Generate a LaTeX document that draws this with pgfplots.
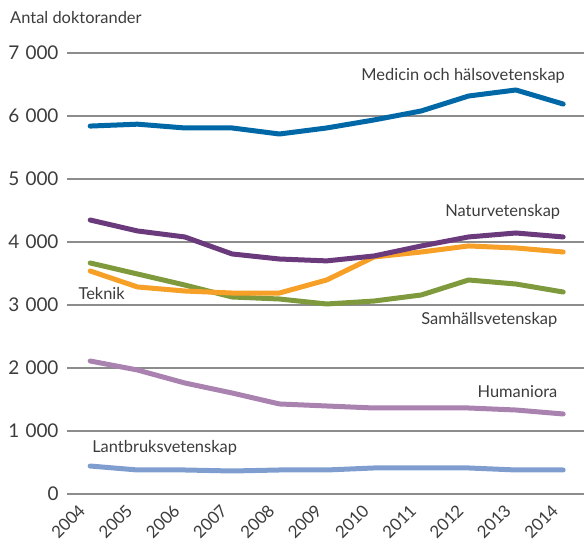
\documentclass[border=0pt]{standalone}
\usepackage{pgfplots}
\pgfplotsset{compat=1.18}
\usepackage{fontspec}
\setmainfont{Lato}
\definecolor{cMed}{RGB}{0,104,166}
\definecolor{cNat}{RGB}{107,58,124}
\definecolor{cTek}{RGB}{247,160,40}
\definecolor{cSam}{RGB}{127,154,60}
\definecolor{cHum}{RGB}{169,130,176}
\definecolor{cLan}{RGB}{127,158,207}
\definecolor{txt}{RGB}{60,60,60}
\definecolor{grd}{RGB}{140,140,140}
\begin{document}
\begin{tikzpicture}[x=1bp,y=1bp]
\begin{axis}[
  scale only axis,
  width=517bp, height=441bp,
  xmin=2003.51, xmax=2014.44,
  ymin=0, ymax=7000,
  xtick={2004,...,2014},
  ytick={0,1000,...,7000},
  yticklabels={0,1\,\,000,2\,\,000,3\,\,000,4\,\,000,5\,\,000,6\,\,000,7\,\,000},
  xticklabel style={rotate=45, anchor=east, font=\fontsize{17}{18}\selectfont, text=txt, xshift=-12bp, yshift=-4bp},
  yticklabel style={font=\fontsize{19}{20}\selectfont, text=txt, xshift=-5bp},
  /pgf/number format/assume math mode=true,
  x tick label style={/pgf/number format/1000 sep={}},
  axis line style={draw=none},
  major tick length=0pt,
  ymajorgrids,
  grid style={grd, line width=1.3bp},
  every axis plot/.append style={line width=5bp, line cap=round, line join=round},
  clip=false,
]
\addplot[cLan] coordinates {(2004,444)(2005,381)(2006,381)(2007,365)(2008,381)(2009,381)(2010,413)(2011,413)(2012,413)(2013,381)(2014,381)};
\addplot[cHum] coordinates {(2004,2111)(2005,1968)(2006,1762)(2007,1603)(2008,1429)(2009,1397)(2010,1365)(2011,1365)(2012,1365)(2013,1333)(2014,1270)};
\addplot[cSam] coordinates {(2004,3667)(2005,3492)(2006,3317)(2007,3127)(2008,3095)(2009,3016)(2010,3063)(2011,3159)(2012,3397)(2013,3333)(2014,3206)};
\addplot[cTek] coordinates {(2004,3540)(2005,3286)(2006,3222)(2007,3190)(2008,3190)(2009,3397)(2010,3762)(2011,3841)(2012,3937)(2013,3905)(2014,3841)};
\addplot[cNat] coordinates {(2004,4349)(2005,4175)(2006,4080)(2007,3810)(2008,3730)(2009,3700)(2010,3778)(2011,3937)(2012,4080)(2013,4143)(2014,4080)};
\addplot[cMed] coordinates {(2004,5840)(2005,5870)(2006,5810)(2007,5810)(2008,5714)(2009,5810)(2010,5937)(2011,6080)(2012,6317)(2013,6413)(2014,6190)};
\begin{scope}[every node/.style={font=\fontsize{16.5}{18}\selectfont, text=txt, inner sep=0pt}]
\node[anchor=east] at (axis cs:2014.04,6635) {Medicin och hälsovetenskap};
\node[anchor=east] at (axis cs:2013.94,4476) {Naturvetenskap};
\node[anchor=west] at (axis cs:2003.75,3190) {Teknik};
\node[anchor=east] at (axis cs:2013.88,2762) {Samhällsvetenskap};
\node[anchor=east] at (axis cs:2013.88,1619) {Humaniora};
\node[anchor=west] at (axis cs:2004.04,730) {Lantbruksvetenskap};
\node[anchor=west] at ([xshift=-57bp,yshift=35bp]rel axis cs:0,1) {Antal doktorander};
\end{scope}
\coordinate (axSW) at (rel axis cs:0,0);
\coordinate (axNE) at (rel axis cs:1,1);
\end{axis}
\pgfresetboundingbox
\path[use as bounding box] ([xshift=-67bp,yshift=-49bp]axSW) rectangle ([yshift=53bp]axNE);
\end{tikzpicture}
\end{document}
